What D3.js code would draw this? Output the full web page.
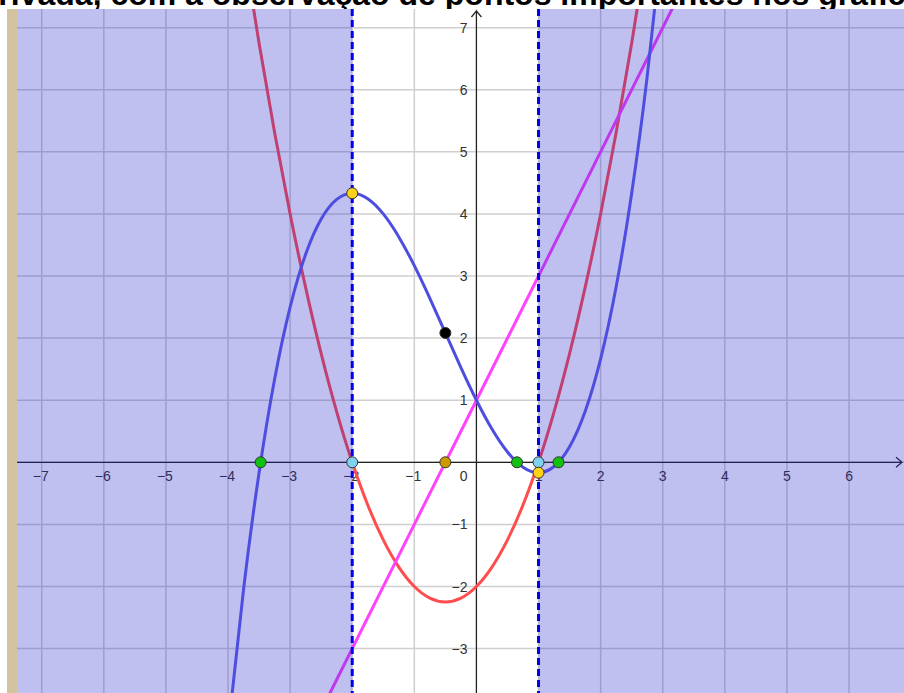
<!DOCTYPE html>
<html>
<head>
<meta charset="utf-8">
<script src="https://cdn.jsdelivr.net/npm/d3@7"></script>
<style>
  body { margin: 0; background: #fff; }
  .tick-label { font-family: "Liberation Sans", Arial, sans-serif; font-size: 14px; fill: #333; }
  .title { font-family: "Liberation Sans", Arial, sans-serif; font-size: 32px; font-weight: bold; fill: #000; }
</style>
</head>
<body>
<div id="graph"></div>
<script>
// f(x), every 0.25
var cubicX = [-4, -3.75, -3.5, -3.25, -3, -2.75, -2.5, -2.25, -2, -1.75, -1.5, -1.25, -1, -0.75, -0.5,
  -0.25, 0, 0.25, 0.5, 0.75, 1, 1.25, 1.5, 1.75, 2, 2.25, 2.5, 2.75, 3];
var cubicY = [-4.333, -2.047, -0.167, 1.339, 2.5, 3.349, 3.917, 4.234, 4.333, 4.245, 4.0, 3.630, 3.167, 2.641, 2.083,
  1.526, 1, 0.536, 0.167, -0.078, -0.167, -0.068, 0.25, 0.818, 1.667, 2.828, 4.333, 6.214, 8.5];

// f'(x), the red parabola
var parabolaX = [-3.75, -3.5, -3.25, -3, -2.75, -2.5, -2.25, -2, -1.75, -1.5, -1.25, -1, -0.75, -0.5,
  -0.25, 0, 0.25, 0.5, 0.75, 1, 1.25, 1.5, 1.75, 2, 2.25, 2.5, 2.75];
var parabolaY = [8.3125, 6.75, 5.3125, 4, 2.8125, 1.75, 0.8125, 0, -0.6875, -1.25, -1.6875, -2, -2.1875, -2.25,
  -2.1875, -2, -1.6875, -1.25, -0.6875, 0, 0.8125, 1.75, 2.8125, 4, 5.3125, 6.75, 8.3125];

// f''(x), the pink line
var lineX = [-2.5, 3.5];
var lineY = [-4, 8];

// important points
var rootsF = [-3.475, 0.653, 1.322];
var rootsDf = [-2, 1];
var rootsD2f = [-0.5];
var extremaX = [-2, 1];
var extremaY = [4.333, -0.167];
var inflectionX = [-0.5];
var inflectionY = [2.083];

// axis ticks
var xTicks = [-7, -6, -5, -4, -3, -2, -1, 1, 2, 3, 4, 5, 6];
var yTicks = [-3, -2, -1, 1, 2, 3, 4, 5, 6, 7];
var gridX = [-7, -6, -5, -4, -3, -2, -1, 0, 1, 2, 3, 4, 5, 6];
var gridY = [-3, -2, -1, 0, 1, 2, 3, 4, 5, 6, 7];

var W = 904, H = 693,
  plot = { left: 17, top: 9, right: 904, bottom: 693 };

var x = d3.scaleLinear().domain([-7.398, 6.885]).range([plot.left, plot.right]),
  y = d3.scaleLinear().domain([-3.715, 7.30]).range([plot.bottom, plot.top]);

var svg = d3.select("#graph").append("svg")
  .attr("width", W)
  .attr("height", H);

// title cut off by the top of the screenshot
svg.append("text")
  .attr("class", "title")
  .attr("x", -39)
  .attr("y", 5)
  .text("derivada, com a observação de pontos importantes nos gráficos");

// beige side strip
svg.append("rect")
  .attr("x", 7).attr("y", plot.top)
  .attr("width", plot.left - 7).attr("height", plot.bottom - plot.top)
  .style("fill", "#d3c49f");

svg.append("clipPath")
  .attr("id", "clip")
  .append("rect")
  .attr("x", plot.left).attr("y", plot.top)
  .attr("width", plot.right - plot.left).attr("height", plot.bottom - plot.top);

var g = svg.append("g").attr("clip-path", "url(#clip)");

g.append("rect")
  .attr("x", plot.left).attr("y", plot.top)
  .attr("width", plot.right - plot.left).attr("height", plot.bottom - plot.top)
  .style("fill", "#fff");

// grid
g.selectAll(".gx").data(gridX).enter().append("line")
  .attr("x1", d => x(d)).attr("x2", d => x(d))
  .attr("y1", plot.top).attr("y2", plot.bottom)
  .style("stroke", "#cfcfcf").style("stroke-width", 1.5);
g.selectAll(".gy").data(gridY).enter().append("line")
  .attr("y1", d => y(d)).attr("y2", d => y(d))
  .attr("x1", plot.left).attr("x2", plot.right)
  .style("stroke", "#cfcfcf").style("stroke-width", 1.5);

// axes
g.append("line")
  .attr("x1", plot.left).attr("x2", plot.right - 2)
  .attr("y1", y(0)).attr("y2", y(0))
  .style("stroke", "#222").style("stroke-width", 1.2);
g.append("line")
  .attr("x1", x(0)).attr("x2", x(0))
  .attr("y1", plot.top + 2).attr("y2", plot.bottom)
  .style("stroke", "#222").style("stroke-width", 1.2);
// arrow heads
g.append("path")
  .attr("d", "M" + (x(0) - 5) + "," + (plot.top + 8) + "L" + x(0) + "," + (plot.top + 2) + "L" + (x(0) + 5) + "," + (plot.top + 8))
  .style("fill", "none").style("stroke", "#222").style("stroke-width", 1.2);
g.append("path")
  .attr("d", "M" + (plot.right - 8) + "," + (y(0) - 5) + "L" + (plot.right - 2) + "," + y(0) + "L" + (plot.right - 8) + "," + (y(0) + 5))
  .style("fill", "none").style("stroke", "#222").style("stroke-width", 1.2);

// tick labels
g.selectAll(".xl").data(xTicks).enter().append("text")
  .attr("class", "tick-label")
  .attr("x", d => x(d) + (d < 0 ? -1 : 0))
  .attr("y", y(0) + 19)
  .attr("text-anchor", "middle")
  .text(d => (d < 0 ? "\u2212" : "") + Math.abs(d));
g.selectAll(".yl").data(yTicks).enter().append("text")
  .attr("class", "tick-label")
  .attr("x", x(0) - 9)
  .attr("y", d => y(d) + 5)
  .attr("text-anchor", "end")
  .text(d => (d < 0 ? "\u2212" : "") + Math.abs(d));
g.append("text")
  .attr("class", "tick-label")
  .attr("x", x(0) - 9)
  .attr("y", y(0) + 19)
  .attr("text-anchor", "end")
  .text("0");

var curve = d3.line()
  .curve(d3.curveNatural)
  .x(d => x(d[0]))
  .y(d => y(d[1]));

// derivatives sit under the shading
g.append("path")
  .attr("d", curve(d3.zip(parabolaX, parabolaY)))
  .style("fill", "none").style("stroke", "#ff4d4d").style("stroke-width", 3);
g.append("path")
  .attr("d", curve(d3.zip(lineX, lineY)))
  .style("fill", "none").style("stroke", "#ff40ff").style("stroke-width", 3);

// shaded intervals where f' > 0
var shade = [[x.domain()[0], -2], [1, x.domain()[1]]];
g.selectAll(".shade").data(shade).enter().append("rect")
  .attr("x", d => x(d[0]))
  .attr("y", plot.top)
  .attr("width", d => x(d[1]) - x(d[0]))
  .attr("height", plot.bottom - plot.top)
  .style("fill", "rgb(35,35,203)")
  .style("fill-opacity", 0.29);

// f itself
g.append("path")
  .attr("d", curve(d3.zip(cubicX, cubicY)))
  .style("fill", "none").style("stroke", "#4d4de0").style("stroke-width", 3);

// dashed verticals at the critical points
g.selectAll(".vline").data(rootsDf).enter().append("line")
  .attr("x1", d => x(d)).attr("x2", d => x(d))
  .attr("y1", plot.top).attr("y2", plot.bottom)
  .style("stroke", "#0000ee").style("stroke-width", 3)
  .style("stroke-dasharray", "7,4");

function dots(xs, ys, color) {
  g.selectAll(null).data(d3.zip(xs, ys)).enter().append("circle")
    .attr("cx", d => x(d[0]))
    .attr("cy", d => y(d[1]))
    .attr("r", 5.5)
    .style("fill", color)
    .style("stroke", "#333")
    .style("stroke-width", 1);
}

dots(rootsF, rootsF.map(() => 0), "#11c011");
dots(rootsD2f, [0], "#cc9a00");
dots(rootsDf, rootsDf.map(() => 0), "#80d0f0");
dots(extremaX, extremaY, "#ffd21a");
dots(inflectionX, inflectionY, "#000");
</script>
</body>
</html>
